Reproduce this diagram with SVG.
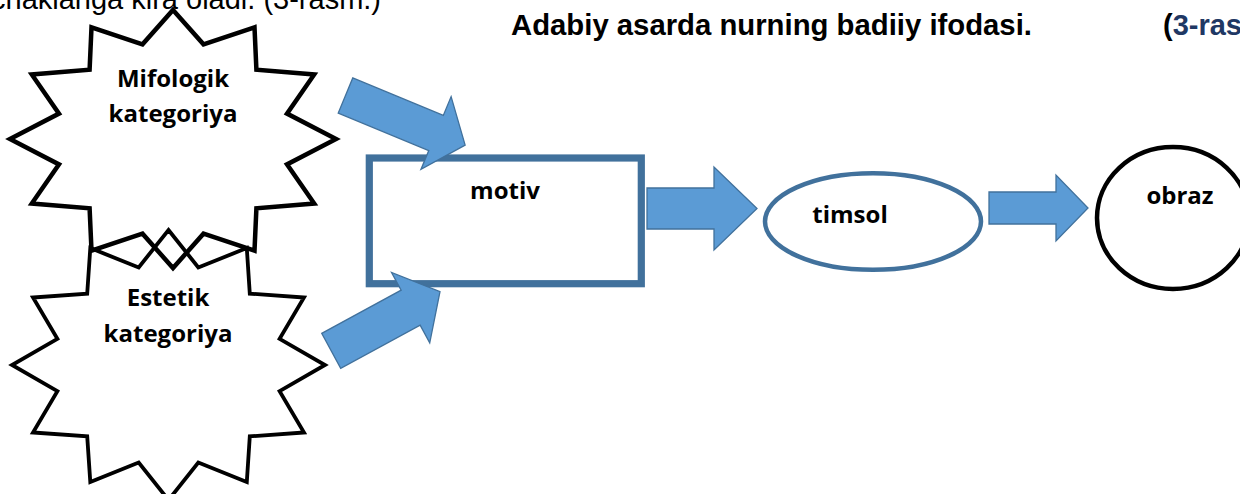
<svg xmlns="http://www.w3.org/2000/svg" width="1240" height="494" viewBox="0 0 1240 494">
<style>
.lbl{font-family:"Open Sans","Noto Sans",sans-serif;font-weight:bold;font-size:24px;fill:#000;text-anchor:middle}
.arr{fill:#5B9BD5;stroke:#41719C;stroke-width:1.3;stroke-linejoin:miter}
.star{fill:none;stroke:#000;stroke-linejoin:miter}
</style>
<rect width="1240" height="494" fill="#fff"/>
<text x="-9" y="9" font-family="Liberation Sans, Arial, sans-serif" font-size="29" fill="#000">chaklariga kira oladi. (3-rasm.)</text>
<text x="511" y="35" font-family="Liberation Sans, Arial, sans-serif" font-size="29.3" font-weight="bold" fill="#000">Adabiy asarda nurning badiiy ifodasi.</text>
<text x="1163" y="35" font-family="Liberation Sans, Arial, sans-serif" font-size="29" font-weight="bold" fill="#000">(<tspan fill="#1F3864">3-ras</tspan></text>

<g id="node-mifologik">
<polygon class="star" stroke-width="4.5" points="173,10 203.5,44.3 254.5,27.3 256.4,69.7 314.2,74.5 287,113.6 336,139 287,164.4 314.2,203.5 256.4,208.3 254.5,250.7 203.5,233.7 173,268 142.5,233.7 91.5,250.7 89.6,208.3 31.8,203.5 59,164.4 10,139 59,113.6 31.8,74.5 89.6,69.7 91.5,27.3 142.5,44.3"/>
<text class="lbl" x="173" y="87">Mifologik</text>
<text class="lbl" x="173" y="122">kategoriya</text>
</g>
<g id="node-estetik">
<polygon class="star" stroke-width="3.8" points="168.5,230 198.3,267.4 246.8,248.1 249.8,293.6 304,297.5 279.6,338.9 325,365 279.6,391.1 304,432.5 249.8,436.4 246.8,481.9 198.3,462.6 168.5,500 138.7,462.6 90.3,481.9 87.2,436.4 33,432.5 57.4,391.1 12,365 57.4,338.9 33,297.5 87.2,293.6 90.3,248.1 138.7,267.4"/>
<text class="lbl" x="168" y="306">Estetik</text>
<text class="lbl" x="168" y="341.5">kategoriya</text>
</g>
<g id="node-motiv">
<rect x="369.3" y="158" width="272" height="125.7" fill="#fff" stroke="#41719C" stroke-width="7.2"/>
<text class="lbl" x="505" y="199">motiv</text>
</g>
<g id="node-timsol">
<ellipse cx="873" cy="221.5" rx="108" ry="48.3" fill="#fff" stroke="#41719C" stroke-width="4.5"/>
<text class="lbl" x="850" y="223">timsol</text>
</g>
<g id="node-obraz">
<ellipse cx="1173" cy="218" rx="76" ry="71" fill="#fff" stroke="#000" stroke-width="4.5"/>
<text class="lbl" x="1180" y="204">obraz</text>
</g>

<g id="connectors">
<polygon class="arr" transform="translate(345.5,95.5) rotate(22.5)" points="0,-19 98,-19 98,-39.4 129.5,0 98,39.4 98,19 0,19"/>
<polygon class="arr" transform="translate(331.2,350.8) rotate(-28.5)" points="0,-19.9 90.4,-19.9 90.4,-40 123.8,0 90.4,40 90.4,19.9 0,19.9"/>
<polygon class="arr" points="647,188 714,188 714,167 757,208.5 714,250 714,229 647,229"/>
<polygon class="arr" points="989,192 1056,192 1056,175 1088,208 1056,241 1056,224 989,224"/>
</g>
</svg>
